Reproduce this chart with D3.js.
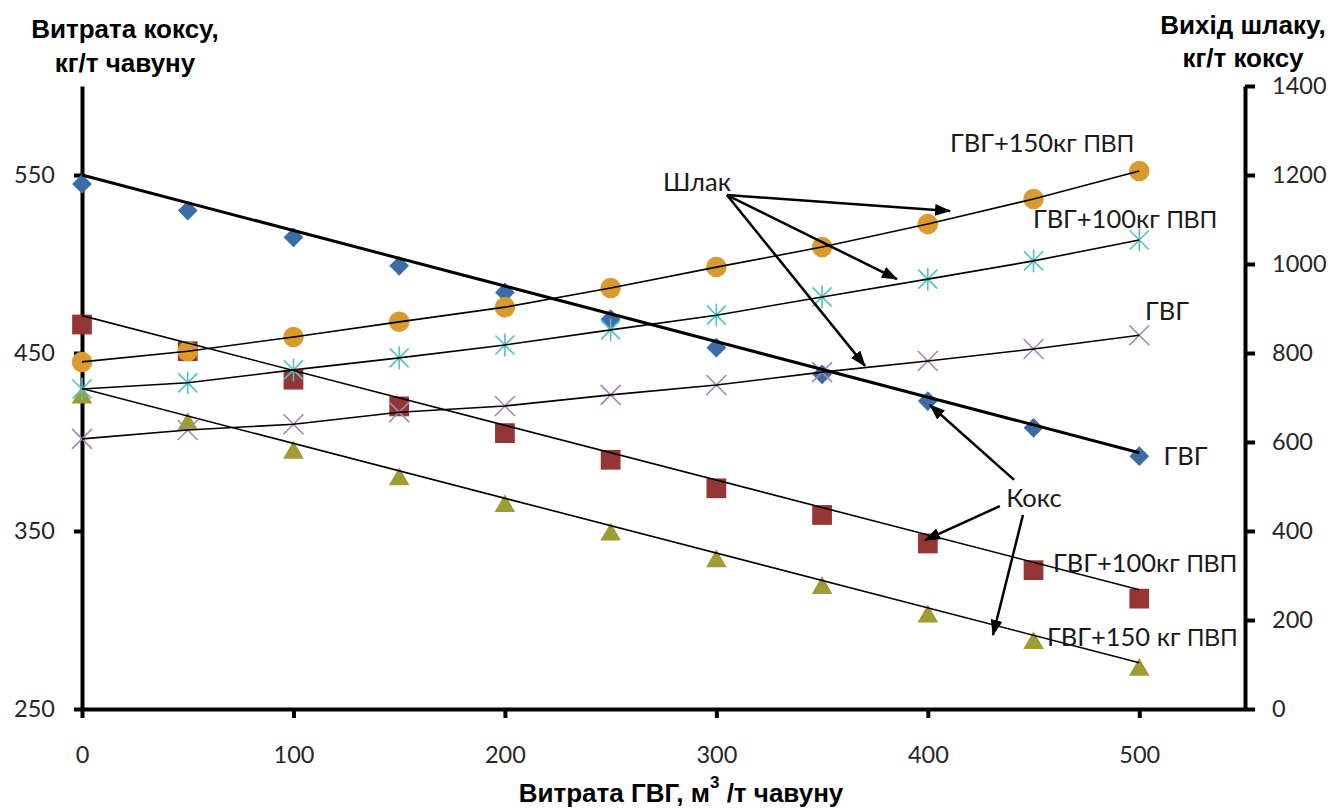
<!DOCTYPE html>
<html>
<head>
<meta charset="utf-8">
<script src="https://cdn.jsdelivr.net/npm/d3@7"></script>
<style>
  body { margin: 0; background: #fff; }
  .axis path, .axis line { stroke: #000; stroke-width: 4; }
  .axis text { font-family: Lato, sans-serif; font-size: 23.5px; fill: #262626; }
  .title { font-family: "Liberation Sans", Arial, sans-serif; font-weight: bold; font-size: 26px; fill: #000; }
  .lbl { font-family: Lato, sans-serif; font-size: 25.5px; fill: #1a1a1a; }
  .lbl .pvp { font-family: "Liberation Sans", Arial, sans-serif; font-size: 24px; }
</style>
</head>
<body>
<div class="chart"></div>
<script>
// витрата ГВГ, м3/т чавуну
var gvg = [0, 50, 100, 150, 200, 250, 300, 350, 400, 450, 500];

// витрата коксу, кг/т чавуну (ліва вісь)
var koksGVG = [545, 530, 515, 499, 484, 469, 453, 438, 423, 408, 392];
var koks100 = [466, 451, 435, 420, 405, 390, 374, 359, 343, 328, 312];
var koks150 = [425, 410, 394, 379, 364, 348, 333, 318, 302, 287, 272];

// лінії тренду коксу (на 0 і 500)
var trendX = [0, 500];
var trendGVG = [550, 394];
var trend100 = [471, 317];
var trend150 = [430, 276];

// вихід шлаку, кг/т коксу (права вісь)
var shlakGVG = [607, 627, 640, 667, 681, 706, 728, 757, 782, 809, 840];
var shlak100 = [719, 733, 762, 789, 818, 852, 885, 926, 966, 1007, 1054];
var shlak150 = [780, 804, 836, 870, 903, 946, 993, 1038, 1090, 1146, 1209];

var xTicks = [0, 100, 200, 300, 400, 500];
var yLeftTicks = [250, 350, 450, 550];
var yRightTicks = [0, 200, 400, 600, 800, 1000, 1200, 1400];

var svg_width = 1334, svg_height = 809;
var svg = d3.select('.chart').append('svg').attr('width', svg_width).attr('height', svg_height);

var x = d3.scaleLinear().domain([0, 550]).range([82, 1245]);
var yL = d3.scaleLinear().domain([250, 600]).range([709, 86]);
var yR = d3.scaleLinear().domain([0, 1400]).range([709, 86]);

svg.append('defs').append('marker')
  .attr('id', 'arr').attr('markerUnits', 'userSpaceOnUse')
  .attr('markerWidth', 16).attr('markerHeight', 12)
  .attr('refX', 15).attr('refY', 6).attr('orient', 'auto')
  .append('path').attr('d', 'M0,0 L16,6 L0,12 z').attr('fill', '#000');

// осі
svg.append('g').attr('class', 'axis')
  .attr('transform', 'translate(0,' + yL.range()[0] + ')')
  .call(d3.axisBottom(x).tickValues(xTicks).tickSize(9).tickSizeOuter(0).tickPadding(28));
svg.append('g').attr('class', 'axis')
  .attr('transform', 'translate(' + x.range()[0] + ',0)')
  .call(d3.axisLeft(yL).tickValues(yLeftTicks).tickSize(8).tickSizeOuter(0).tickPadding(19));
svg.append('g').attr('class', 'axis')
  .attr('transform', 'translate(' + x.range()[1] + ',0)')
  .call(d3.axisRight(yR).tickValues(yRightTicks).tickFormat(d3.format('d'))
    .tickSize(10).tickSizeOuter(0).tickPadding(17));

// маркери
function star(s) { return 'M' + (-s) + ',' + (-s) + 'L' + s + ',' + s + 'M' + (-s) + ',' + s + 'L' + s + ',' + (-s) + 'M0,' + (-s * 1.2) + 'L0,' + (s * 1.2); }
function cross(s) { return 'M' + (-s) + ',' + (-s) + 'L' + s + ',' + s + 'M' + (-s) + ',' + s + 'L' + s + ',' + (-s); }

var series = [
  { v: koksGVG, y: yL, fill: '#3A6CA6', path: d3.symbol(d3.symbolSquare, 195)(), rot: 45 },
  { v: koks100, y: yL, fill: '#963536', path: d3.symbol(d3.symbolSquare, 390)(), rot: 0 },
  { v: koks150, y: yL, fill: '#9E9C32', path: d3.symbol(d3.symbolTriangle, 185)(), rot: 0 },
  { v: shlak150, y: yR, fill: '#D99A2E', path: d3.symbol(d3.symbolCircle, 330)(), rot: 0 },
  { v: shlak100, y: yR, stroke: '#4FC3C6', path: star(9.5), rot: 0 },
  { v: shlakGVG, y: yR, stroke: '#A486B2', path: cross(10), rot: 0 }
];

series.forEach(function(s) {
  svg.append('g').selectAll('path').data(s.v).enter().append('path')
    .attr('d', s.path)
    .attr('transform', function(d, i) { return 'translate(' + x(gvg[i]) + ',' + s.y(d) + ') rotate(' + s.rot + ')'; })
    .attr('fill', s.fill || 'none')
    .attr('stroke', s.stroke || 'none')
    .attr('stroke-width', 1.6);
});

// лінії шлаку
[shlakGVG, shlak100, shlak150].forEach(function(v) {
  svg.append('path')
    .attr('d', d3.line().x(function(d, i) { return x(gvg[i]); }).y(function(d) { return yR(d); })(v))
    .attr('fill', 'none').attr('stroke', '#000').attr('stroke-width', 1.6);
});

// тренди коксу
[[trendGVG, 3], [trend100, 1.6], [trend150, 1.6]].forEach(function(t) {
  svg.append('path')
    .attr('d', d3.line().x(function(d, i) { return x(trendX[i]); }).y(function(d) { return yL(d); })(t[0]))
    .attr('fill', 'none').attr('stroke', '#000').attr('stroke-width', t[1]);
});

// підписи серій
var labels = [
  { a: 'ГВГ+150кг', b: ' ПВП', x: 410.5, y: 1252, s: yR },
  { a: 'ГВГ+100кг', b: ' ПВП', x: 449.7, y: 1081, s: yR },
  { a: 'ГВГ', b: '', x: 502.7, y: 874, s: yR },
  { a: 'ГВГ', b: '', x: 511.5, y: 387, s: yL },
  { a: 'ГВГ+100кг', b: ' ПВП', x: 459.2, y: 327, s: yL },
  { a: 'ГВГ+150 кг', b: ' ПВП', x: 456.4, y: 285.4, s: yL }
];
labels.forEach(function(l) {
  var t = svg.append('text').attr('class', 'lbl').attr('x', x(l.x)).attr('y', l.s(l.y));
  t.append('tspan').text(l.a);
  if (l.b) t.append('tspan').attr('class', 'pvp').text(l.b);
});

// Шлак: стрілки
svg.append('text').attr('class', 'lbl').attr('x', x(290.8)).attr('y', yR(1164))
  .attr('text-anchor', 'middle').text('Шлак');
[[410.5, 1119], [385.4, 966], [370.3, 771]].forEach(function(p) {
  svg.append('line').attr('x1', x(305)).attr('y1', yR(1155)).attr('x2', x(p[0])).attr('y2', yR(p[1]))
    .attr('stroke', '#000').attr('stroke-width', 2.5).attr('marker-end', 'url(#arr)');
});

// Кокс: стрілки
svg.append('text').attr('class', 'lbl').attr('x', x(450.2)).attr('y', yL(363.5))
  .attr('text-anchor', 'middle').text('Кокс');
[[440.8, 378.7, 401, 420.8], [434.1, 364, 398.7, 344.9], [445, 359, 430.8, 291.6]].forEach(function(p) {
  svg.append('line').attr('x1', x(p[0])).attr('y1', yL(p[1])).attr('x2', x(p[2])).attr('y2', yL(p[3]))
    .attr('stroke', '#000').attr('stroke-width', 2.5).attr('marker-end', 'url(#arr)');
});

// назви осей
function title(lines, cx, ys) {
  lines.forEach(function(s, i) {
    svg.append('text').attr('class', 'title').attr('x', cx).attr('y', ys[i]).attr('text-anchor', 'middle').text(s);
  });
}
title(['Витрата коксу,', 'кг/т чавуну'], 125, [38, 72]);
title(['Вихід шлаку,', 'кг/т коксу'], 1243, [34, 67]);

var xt = svg.append('text').attr('class', 'title').attr('x', 681).attr('y', 802).attr('text-anchor', 'middle');
xt.append('tspan').text('Витрата ГВГ, м');
xt.append('tspan').attr('dy', -14).attr('font-size', 17).text('3');
xt.append('tspan').attr('dy', 14).text(' /т чавуну');
</script>
</body>
</html>
